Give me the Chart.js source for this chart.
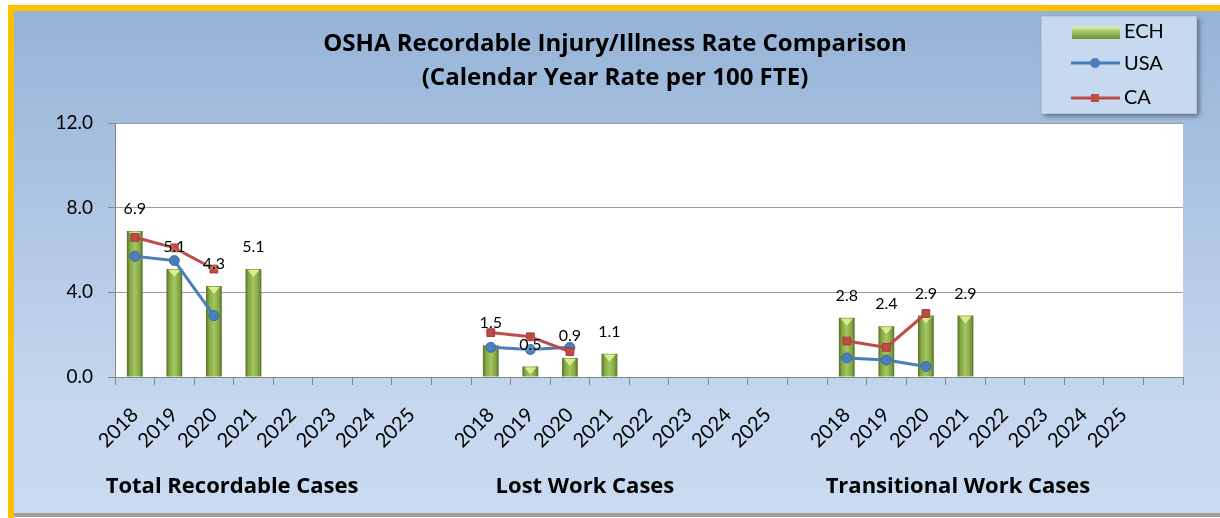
<!DOCTYPE html>
<html><head><meta charset="utf-8">
<script src="https://cdn.jsdelivr.net/npm/chart.js@4.4.1/dist/chart.umd.min.js"></script>
<style>html,body{margin:0;padding:0;background:#fff;} canvas{display:block;}</style>
</head><body>
<canvas id="c" width="1220" height="518"></canvas>
<script>
// ---------- data ----------
const chartTitle = ['OSHA Recordable Injury/Illness Rate Comparison', '(Calendar Year Rate per 100 FTE)'];
const seriesNames = ['ECH', 'USA', 'CA'];
const groupLabels = ['Total Recordable Cases', 'Lost Work Cases', 'Transitional Work Cases'];
const categories = [
  '2018','2019','2020','2021','2022','2023','2024','2025','',
  '2018','2019','2020','2021','2022','2023','2024','2025','',
  '2018','2019','2020','2021','2022','2023','2024','2025',''
];
const echValues = [
  6.9, 5.1, 4.3, 5.1, null, null, null, null, null,
  1.5, 0.5, 0.9, 1.1, null, null, null, null, null,
  2.8, 2.4, 2.9, 2.9, null, null, null, null, null
];
const usaValues = [
  5.7, 5.5, 2.9, null, null, null, null, null, null,
  1.4, 1.3, 1.4, null, null, null, null, null, null,
  0.9, 0.8, 0.5, null, null, null, null, null, null
];
const caValues = [
  6.6, 6.1, 5.1, null, null, null, null, null, null,
  2.1, 1.9, 1.2, null, null, null, null, null, null,
  1.7, 1.4, 3.0, null, null, null, null, null, null
];
const yTicks = [0, 4, 8, 12];

// ---------- styling ----------
const FONT = 'Lato, "Liberation Sans", sans-serif';
const HFONT = '"Open Sans", Lato, sans-serif';
const BLUE = '#4a7ebb', RED = '#be4b48';
const groupLabelPos = [2.96, 11.88, 21.31]; // in category units from left of axis

function barGradient(c2d, x0, x1) {
  const g = c2d.createLinearGradient(x0, 0, x1, 0);
  g.addColorStop(0, '#56722a');
  g.addColorStop(0.2, '#84a843');
  g.addColorStop(0.5, '#a3c663');
  g.addColorStop(0.8, '#84a843');
  g.addColorStop(1, '#56722a');
  return g;
}
function barFill(ctx) {
  const chart = ctx.chart;
  const xs = chart.scales && chart.scales.x;
  if (!xs || ctx.type !== 'data' || !xs.width) return '#9bbb59';
  const cx = xs.getPixelForValue(ctx.dataIndex);
  const w = xs.width / categories.length * 0.4;
  return barGradient(chart.ctx, cx - w / 2, cx + w / 2);
}

const panelPlugin = {
  id: 'panel',
  beforeDraw(chart) {
    const c = chart.ctx, W = chart.width, H = chart.height;
    c.save();
    c.fillStyle = '#ffffff'; c.fillRect(0, 0, W, H);
    c.fillStyle = '#ffc000';
    c.fillRect(8, 5, W - 8, 6);
    c.fillRect(8, 5, 6, H - 3);
    const g = c.createLinearGradient(0, 11, 0, 513);
    g.addColorStop(0, '#95b3d7');
    g.addColorStop(0.5, '#b4cae6');
    g.addColorStop(0.8, '#c5d8ef');
    g.addColorStop(1, '#c8daf0');
    c.fillStyle = g; c.fillRect(14, 11, W - 14, 502);
    c.fillStyle = '#a0a0a0'; c.fillRect(14, 513, W - 14, 4);
    const a = chart.chartArea;
    c.fillStyle = '#ffffff'; c.fillRect(a.left, a.top, a.right - a.left, a.bottom - a.top);
    c.restore();
  }
};

const barDecorPlugin = {
  id: 'barDecor',
  afterDatasetDraw(chart, args) {
    if (args.index !== 0) return;
    const c = chart.ctx;
    const meta = chart.getDatasetMeta(0);
    c.save();
    meta.data.forEach((el, i) => {
      if (echValues[i] == null) return;
      const w = el.width, x = el.x, y = el.y;
      c.beginPath();
      c.moveTo(x - w / 2 + 2, y + 1);
      c.lineTo(x + w / 2 - 2, y + 1);
      c.lineTo(x, y + 8);
      c.closePath();
      c.fillStyle = '#dbeb8e';
      c.fill();
    });
    c.restore();
  },
  afterDatasetsDraw(chart) {
    const c = chart.ctx;
    const meta = chart.getDatasetMeta(0);
    c.save();
    c.font = '16px ' + FONT;
    c.textAlign = 'center'; c.textBaseline = 'middle';
    meta.data.forEach((el, i) => {
      const v = echValues[i];
      if (v == null) return;
      c.shadowColor = 'rgba(255,255,255,0.9)'; c.shadowBlur = 3;
      c.fillStyle = '#000';
      c.fillText(v.toFixed(1), el.x, el.y - 22);
    });
    c.restore();
  }
};

const textPlugin = {
  id: 'texts',
  afterDraw(chart) {
    const c = chart.ctx;
    const xs = chart.scales.x;
    c.save();
    // title
    c.fillStyle = '#000';
    c.textAlign = 'center'; c.textBaseline = 'middle';
    c.font = 'bold 24px ' + HFONT;
    c.fillText(chartTitle[0], 615, 44);
    c.fillText(chartTitle[1], 615, 78);
    // group labels
    c.font = 'bold 22px ' + HFONT;
    const cw = xs.width / categories.length;
    groupLabels.forEach((t, i) => c.fillText(t, xs.left + groupLabelPos[i] * cw, 487));
    // legend box
    const bx = 1041, by = 16, bw = 155, bh = 97;
    c.save();
    c.shadowColor = 'rgba(0,0,0,0.45)'; c.shadowBlur = 5; c.shadowOffsetX = 3; c.shadowOffsetY = 3;
    c.fillStyle = '#c6d9f0'; c.fillRect(bx, by, bw, bh);
    c.restore();
    c.strokeStyle = '#b7c9e0'; c.lineWidth = 1; c.strokeRect(bx + 0.5, by + 0.5, bw, bh);
    // ECH swatch
    const sg = c.createLinearGradient(0, 27, 0, 39);
    sg.addColorStop(0, '#e6f29c'); sg.addColorStop(0.35, '#a6c965'); sg.addColorStop(1, '#6f8f35');
    c.fillStyle = sg; c.fillRect(1072, 27, 48, 12);
    // USA
    c.strokeStyle = BLUE; c.lineWidth = 3;
    c.beginPath(); c.moveTo(1071, 63); c.lineTo(1120, 63); c.stroke();
    c.fillStyle = BLUE; c.beginPath(); c.arc(1095, 63, 5, 0, Math.PI * 2); c.fill();
    // CA
    c.strokeStyle = RED;
    c.beginPath(); c.moveTo(1071, 98); c.lineTo(1120, 98); c.stroke();
    c.fillStyle = RED; c.fillRect(1091, 94, 8, 8);
    c.fillStyle = '#000'; c.textAlign = 'left';
    c.font = '20px ' + FONT;
    c.fillText(seriesNames[0], 1124, 32);
    c.fillText(seriesNames[1], 1124, 64);
    c.fillText(seriesNames[2], 1124, 98);
    c.restore();
  }
};

new Chart(document.getElementById('c'), {
  type: 'bar',
  data: {
    labels: categories,
    datasets: [
      { type: 'bar', label: seriesNames[0], data: echValues, order: 3,
        backgroundColor: barFill, borderWidth: 0,
        barPercentage: 0.5, categoryPercentage: 0.8 },
      { type: 'line', label: seriesNames[1], data: usaValues, order: 2,
        borderColor: BLUE, backgroundColor: BLUE, borderWidth: 3,
        pointStyle: 'circle', pointRadius: 5, pointBorderColor: '#3b6ba6', pointBorderWidth: 1,
        pointBackgroundColor: BLUE, tension: 0, spanGaps: false },
      { type: 'line', label: seriesNames[2], data: caValues, order: 1,
        borderColor: RED, backgroundColor: RED, borderWidth: 3,
        pointStyle: 'rect', pointRadius: 5.5, pointBorderColor: '#a93a37', pointBorderWidth: 1,
        pointBackgroundColor: RED, tension: 0, spanGaps: false }
    ]
  },
  options: {
    responsive: false, animation: false, devicePixelRatio: 1,
    layout: { padding: { left: 0, top: 123, right: 37, bottom: 0 } },
    plugins: { legend: { display: false }, title: { display: false }, tooltip: { enabled: false } },
    scales: {
      x: {
        offset: true,
        afterFit(s) { s.height = 141; },
        grid: { offset: true, drawOnChartArea: false, drawTicks: true, tickLength: 8, color: '#868686', tickColor: '#868686' },
        border: { display: true, color: '#868686', width: 1 },
        ticks: { autoSkip: false, maxRotation: 45, minRotation: 45, padding: 18,
                 color: '#000', font: { family: FONT, size: 20 } }
      },
      y: {
        min: 0, max: 12,
        afterFit(s) { s.width = 115; },
        afterBuildTicks(s) { s.ticks = yTicks.map(v => ({ value: v })); },
        grid: {
          color: (ctx) => (ctx.tick && ctx.tick.value === 0) ? 'rgba(0,0,0,0)' : '#9a9a9a',
          tickColor: '#868686', borderDash: [1, 2], tickBorderDash: [], tickLength: 7, lineWidth: 1
        },
        border: { display: true, color: '#868686', width: 1 },
        ticks: { padding: 15, color: '#000', font: { family: FONT, size: 19 },
                 callback: (v) => Number(v).toFixed(1) }
      }
    }
  },
  plugins: [panelPlugin, barDecorPlugin, textPlugin]
});
</script>
</body></html>
